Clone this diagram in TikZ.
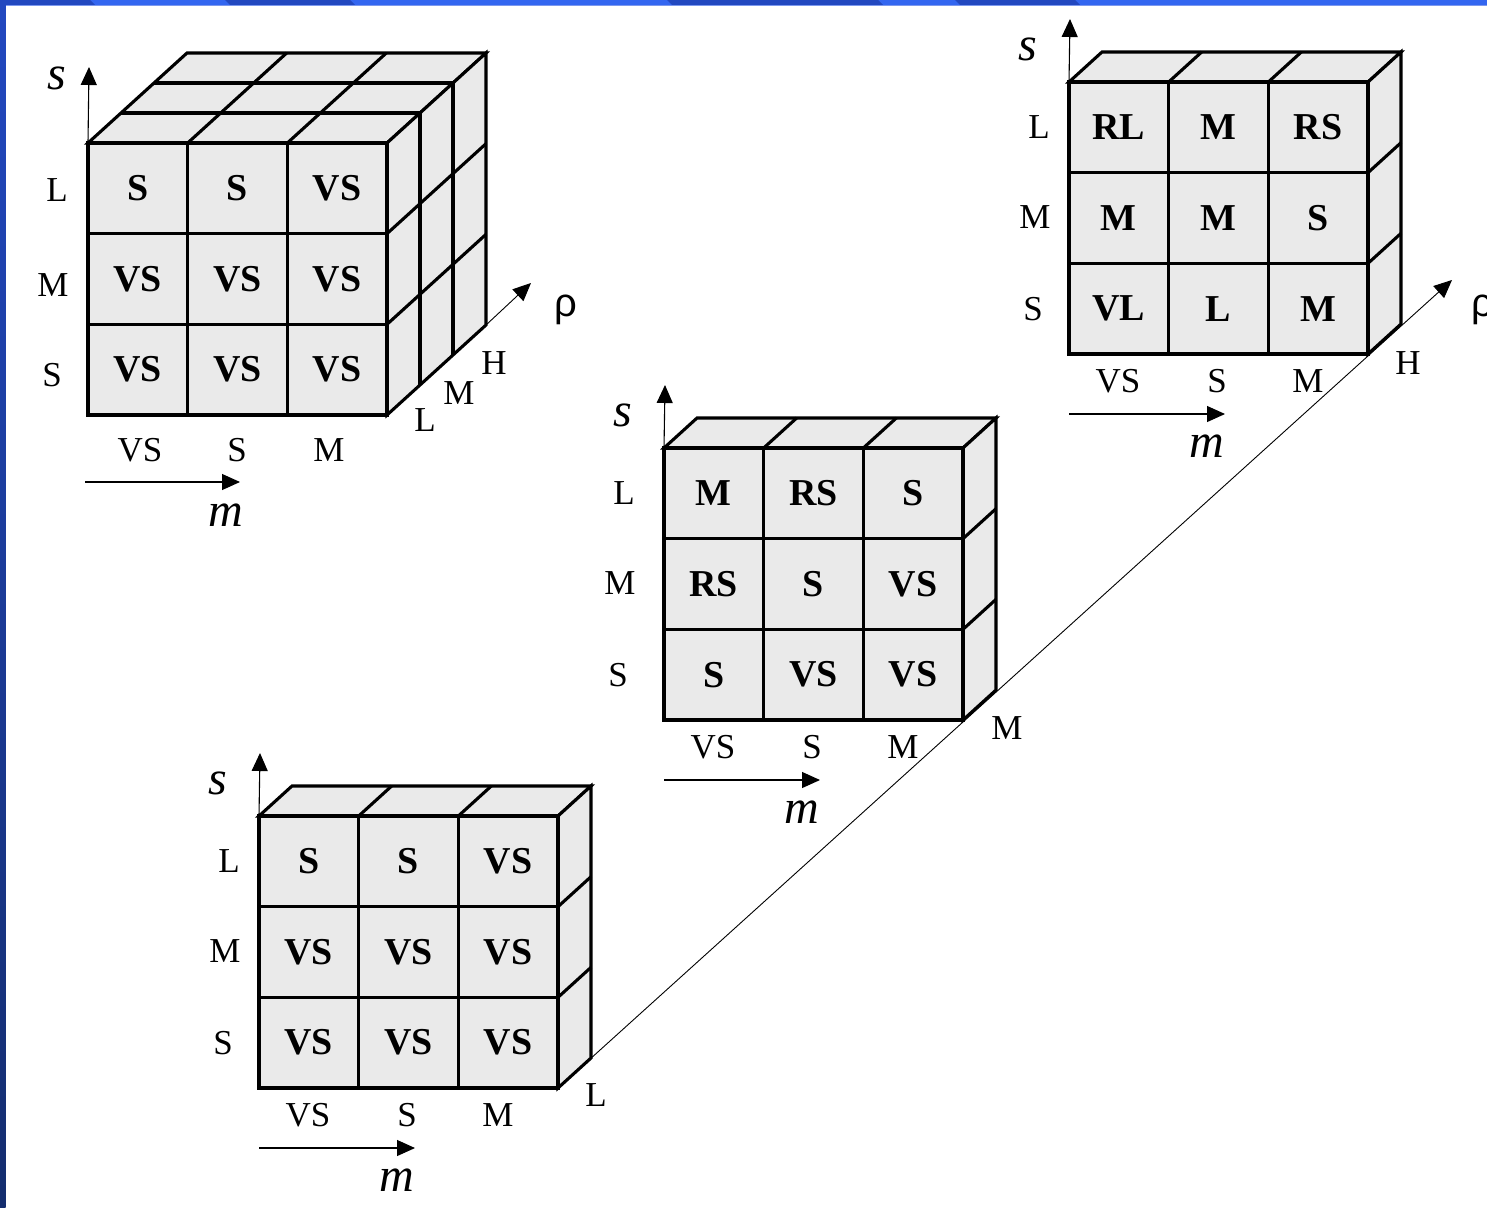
\documentclass[tikz,border=0pt]{standalone}
\usepackage{fontspec}
\setmainfont{Liberation Serif}
\newfontfamily\rhofont{Liberation Sans}
\usepackage{tikz}
\usetikzlibrary{
    arrows.meta,
    calc,
    positioning
}
\definecolor{cellgray}{HTML}{EAEAEA}
\definecolor{slidedark}{HTML}{2248C0}
\definecolor{slidelight}{HTML}{3366F0}
\definecolor{slidedeep}{HTML}{142D6E}
\definecolor{slidepale}{HTML}{7C98EE}

\tikzset{
    face/.style={fill=cellgray, draw=black, line width=3.1pt},
    ridge/.style={draw=black, line width=3.1pt},
    axisarrow/.style={->, line width=1.1pt},
    term/.style={font=\fontsize{35}{35}\selectfont, inner sep=0pt},
    ruletext/.style={font=\fontsize{38}{38}\selectfont\bfseries, inner sep=0pt},
    var/.style={font=\fontsize{48}{48}\selectfont\itshape, inner sep=0pt},
    rholabel/.style={font=\fontsize{40}{40}\selectfont\rhofont, inner sep=0pt}
}

% front face of a slice: grid and the nine outputs, rows L, M, S
\newcommand{\rulefront}[2]{%
    \filldraw[face] (0,0) rectangle (299,272);
    \foreach \k in {1,2} {
        \draw[ridge] ({\k*299/3},0) -- +(0,272);
        \draw[ridge] (0,{\k*272/3}) -- +(299,0);
    }
    \foreach \out [count=\i from 0] in {#2} {
        \pgfmathtruncatemacro{\col}{mod(\i,3)}
        \pgfmathtruncatemacro{\row}{div(\i,3)}
        \node[ruletext] (#1-\i) at ({(\col+0.5)*299/3},{(\row+0.5)*272/3}) {\out};
    }
    \coordinate (#1-top) at (0,0);
    \coordinate (#1-corner) at (299,272);
}
% top and side of a slice one layer deep
\newcommand{\slab}{%
    \filldraw[face] (0,0) -- (33,-30) -- (332,-30) -- (299,0) -- cycle;
    \filldraw[face] (299,0) -- (332,-30) -- (332,242) -- (299,272) -- cycle;
    \foreach \k in {1,2} {
        \draw[ridge] ({\k*299/3},0) -- +(33,-30);
        \draw[ridge] (299,{\k*272/3}) -- +(33,-30);
    }
}
% s and m axes of a slice
\newcommand{\slabaxes}[2][0]{%
    \node[term] (#2-L) at ({-30+#1},45) {L};
    \node[term] (#2-M) at ({-34+#1},135) {M};
    \node[term] (#2-S) at ({-36+#1},227) {S};
    \node[term] (#2-VS) at (49,299) {VS};
    \node[term] (#2-mS) at (148,299) {S};
    \node[term] (#2-mM) at (239,299) {M};
    \coordinate (#2-stip) at (1,-63);
    \draw[axisarrow] (#2-top) -- (#2-stip);
    \node[var] (#2-s) at (-41,-33) {s};
    \coordinate (#2-m0) at (0,332);
    \coordinate (#2-m1) at (156,332);
    \draw[axisarrow] (#2-m0) -- (#2-m1);
    \node[var] (#2-m) at (138,364) {m};
}

\begin{document}
\begin{tikzpicture}[x=1pt, y=-1pt, >={Triangle[length=18pt,width=16pt]}]
    \useasboundingbox (0,0) rectangle (1487,1207);
    \fill[white] (0,0) rectangle (1487,1207);

    % slide frame
    \fill[slidelight] (0,0) rectangle (1487,5);
    \foreach \a/\b in {-10/90, 225/350, 667/878, 955/1075}
        \fill[slidedark] (\a,0) -- (\b,0) -- (\b+5,5) -- (\a+5,5) -- cycle;
    \draw[slidepale, line width=1pt] (6,5.5) -- (1487,5.5);
    \shade[top color=slidedark, bottom color=slidedeep] (0,0) rectangle (5.5,1207);

    % whole rule base, three slices deep
    \begin{scope}[shift={(88,143)}]
        \filldraw[face] (0,0) -- (99,-90) -- (398,-90) -- (299,0) -- cycle;
        \filldraw[face] (299,0) -- (398,-90) -- (398,182) -- (299,272) -- cycle;
        \foreach \k in {1,2} {
            \draw[ridge] ({\k*33},{-\k*30}) -- +(299,0) -- +(299,272);
            \draw[ridge] ({\k*299/3},0) -- +(99,-90);
            \draw[ridge] (299,{\k*272/3}) -- +(99,-90);
        }
        \rulefront{whole}{S,S,VS,VS,VS,VS,VS,VS,VS}
        \node[term] (whole-L) at (-31,47) {L};
        \node[term] (whole-M) at (-35,142) {M};
        \node[term] (whole-S) at (-36,232) {S};
        \node[term] (whole-VS) at (52,307) {VS};
        \node[term] (whole-mS) at (149,307) {S};
        \node[term] (whole-mM) at (241,307) {M};
        \coordinate (whole-stip) at (1,-76);
        \draw[axisarrow] (whole-top) -- (whole-stip);
        \node[var] (whole-s) at (-31,-65) {s};
        \coordinate (whole-m0) at (-3,339);
        \coordinate (whole-m1) at (152,339);
        \draw[axisarrow] (whole-m0) -- (whole-m1);
        \node[var] (whole-m) at (138,372) {m};
        \coordinate (whole-back) at (398,182);
        \coordinate (whole-rtip) at (443,140);
        \draw[axisarrow, line width=0.9pt] (whole-back) -- (whole-rtip);
        \node[rholabel] (whole-rho) at (478,167) {ρ};
        \node[term] (whole-rL) at (337,277) {L};
        \node[term] (whole-rM) at (371,250) {M};
        \node[term] (whole-rH) at (406,220) {H};
    \end{scope}

    % rho axis through the three slices
    \coordinate (rho-tip) at (1452,280);
    \coordinate (rho-start) at (558,1088);
    \draw[axisarrow, line width=0.9pt] (rho-start) -- (rho-tip);
    \node[rholabel] (rho) at (1483,310) {ρ};

    \begin{scope}[shift={(259,816)}]
        \slab
        \rulefront{low}{S,S,VS,VS,VS,VS,VS,VS,VS}
        \slabaxes{low}
    \end{scope}

    \begin{scope}[shift={(664,448)}]
        \slab
        \rulefront{mid}{M,RS,S,RS,S,VS,S,VS,VS}
        \slabaxes[-10]{mid}
    \end{scope}

    \begin{scope}[shift={(1069,82)}]
        \slab
        \rulefront{high}{RL,M,RS,M,M,S,VL,L,M}
        \slabaxes{high}
    \end{scope}

    \node[term] (rho-L) at ([shift={(38,7)}]low-corner) {L};
    \node[term] (rho-M) at ([shift={(44,8)}]mid-corner) {M};
    \node[term] (rho-H) at ([shift={(40,9)}]high-corner) {H};
\end{tikzpicture}
\end{document}
